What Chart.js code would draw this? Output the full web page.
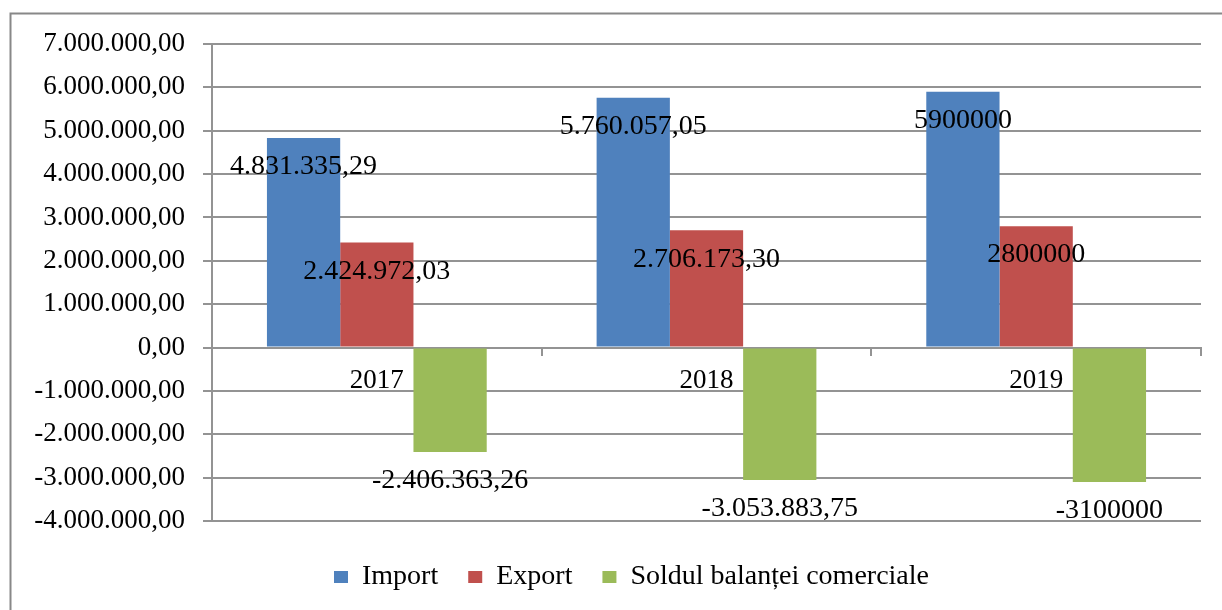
<!DOCTYPE html>
<html>
<head>
<meta charset="utf-8">
<script src="https://cdn.jsdelivr.net/npm/chart.js@4/dist/chart.umd.min.js"></script>
<style>
  body { margin: 0; background: #fff; }
  canvas { display: block; }
</style>
</head>
<body>
<canvas id="tradeChart" width="1222" height="610"></canvas>
<script>
// Data
const years = ['2017', '2018', '2019'];
const importValues = [4831335.29, 5760057.05, 5900000];
const exportValues = [2424972.03, 2706173.30, 2800000];
const balanceValues = [-2406363.26, -3053883.75, -3100000];
// 2019 values are printed without formatting in the original
const plainLabels = [false, false, true];
const yMin = -4000000;
const yMax = 7000000;
const yStep = 1000000;

const gridColor = '#939393';
const serif = '"Liberation Serif", "Times New Roman", serif';

function formatRo(v) {
    const neg = v < 0;
    const parts = Math.abs(v).toFixed(2).split('.');
    return (neg ? '-' : '') + parts[0].replace(/\B(?=(\d{3})+(?!\d))/g, '.') + ',' + parts[1];
}

function labelText(v, idx) {
    return plainLabels[idx] ? String(v) : formatRo(v);
}

// Outer frame like the Excel chart border
const frame = {
    id: 'frame',
    beforeDraw(chart) {
        const ctx = chart.ctx;
        ctx.save();
        ctx.fillStyle = '#fff';
        ctx.fillRect(0, 0, chart.width, chart.height);
        ctx.strokeStyle = '#888';
        ctx.lineWidth = 2;
        ctx.strokeRect(10.5, 13.5, chart.width + 100, chart.height + 100);
        ctx.restore();
    }
};

// Legend is centred a bit right of the canvas middle in the original
const legendShift = {
    id: 'legendShift',
    afterLayout(chart) {
        chart.legend.left = 62;
    }
};

// Value labels below the end of each bar
const valueLabels = {
    id: 'valueLabels',
    afterDatasetsDraw(chart) {
        const ctx = chart.ctx;
        ctx.save();
        ctx.font = '28px ' + serif;
        ctx.fillStyle = '#000';
        ctx.textAlign = 'center';
        ctx.textBaseline = 'middle';
        chart.data.datasets.forEach((ds, i) => {
            chart.getDatasetMeta(i).data.forEach((bar, j) => {
                ctx.fillText(labelText(ds.data[j], j), bar.x, bar.y + 29);
            });
        });
        ctx.restore();
    }
};

const ctx = document.getElementById('tradeChart').getContext('2d');
const tradeChart = new Chart(ctx, {
    type: 'bar',
    data: {
        labels: years,
        datasets: [{
            label: 'Import',
            data: importValues,
            backgroundColor: '#4F81BD',
            borderWidth: 0
        }, {
            label: 'Export',
            data: exportValues,
            backgroundColor: '#C0504D',
            borderWidth: 0
        }, {
            label: 'Soldul balanței comerciale',
            data: balanceValues,
            backgroundColor: '#9BBB59',
            borderWidth: 0
        }]
    },
    options: {
        responsive: false,
        animation: false,
        devicePixelRatio: 1,
        categoryPercentage: 2 / 3,
        barPercentage: 1,
        layout: {
            padding: { left: 0, top: 44, right: 21, bottom: 9 }
        },
        scales: {
            x: {
                position: { y: 0 },
                offset: true,
                grid: {
                    drawOnChartArea: false,
                    offset: true,
                    tickLength: 7,
                    color: gridColor,
                    lineWidth: 2
                },
                border: { display: true, color: gridColor, width: 2 },
                ticks: {
                    color: '#000',
                    padding: 10,
                    font: { family: serif, size: 27 }
                }
            },
            y: {
                min: yMin,
                max: yMax,
                afterFit(scale) { scale.width = 212; },
                grid: {
                    color: gridColor,
                    lineWidth: 2,
                    tickLength: 9
                },
                border: { display: true, color: gridColor, width: 2 },
                ticks: {
                    stepSize: yStep,
                    color: '#000',
                    padding: 18,
                    font: { family: serif, size: 27 },
                    callback: v => formatRo(v)
                }
            }
        },
        plugins: {
            tooltip: { enabled: false },
            legend: {
                position: 'bottom',
                title: {
                    display: true,
                    text: ' ',
                    font: { size: 10, lineHeight: 1.2 },
                    padding: 0
                },
                labels: {
                    boxWidth: 14,
                    boxHeight: 12,
                    padding: 30,
                    color: '#000',
                    font: { family: serif, size: 28 }
                }
            }
        }
    },
    plugins: [frame, legendShift, valueLabels]
});
</script>
</body>
</html>
